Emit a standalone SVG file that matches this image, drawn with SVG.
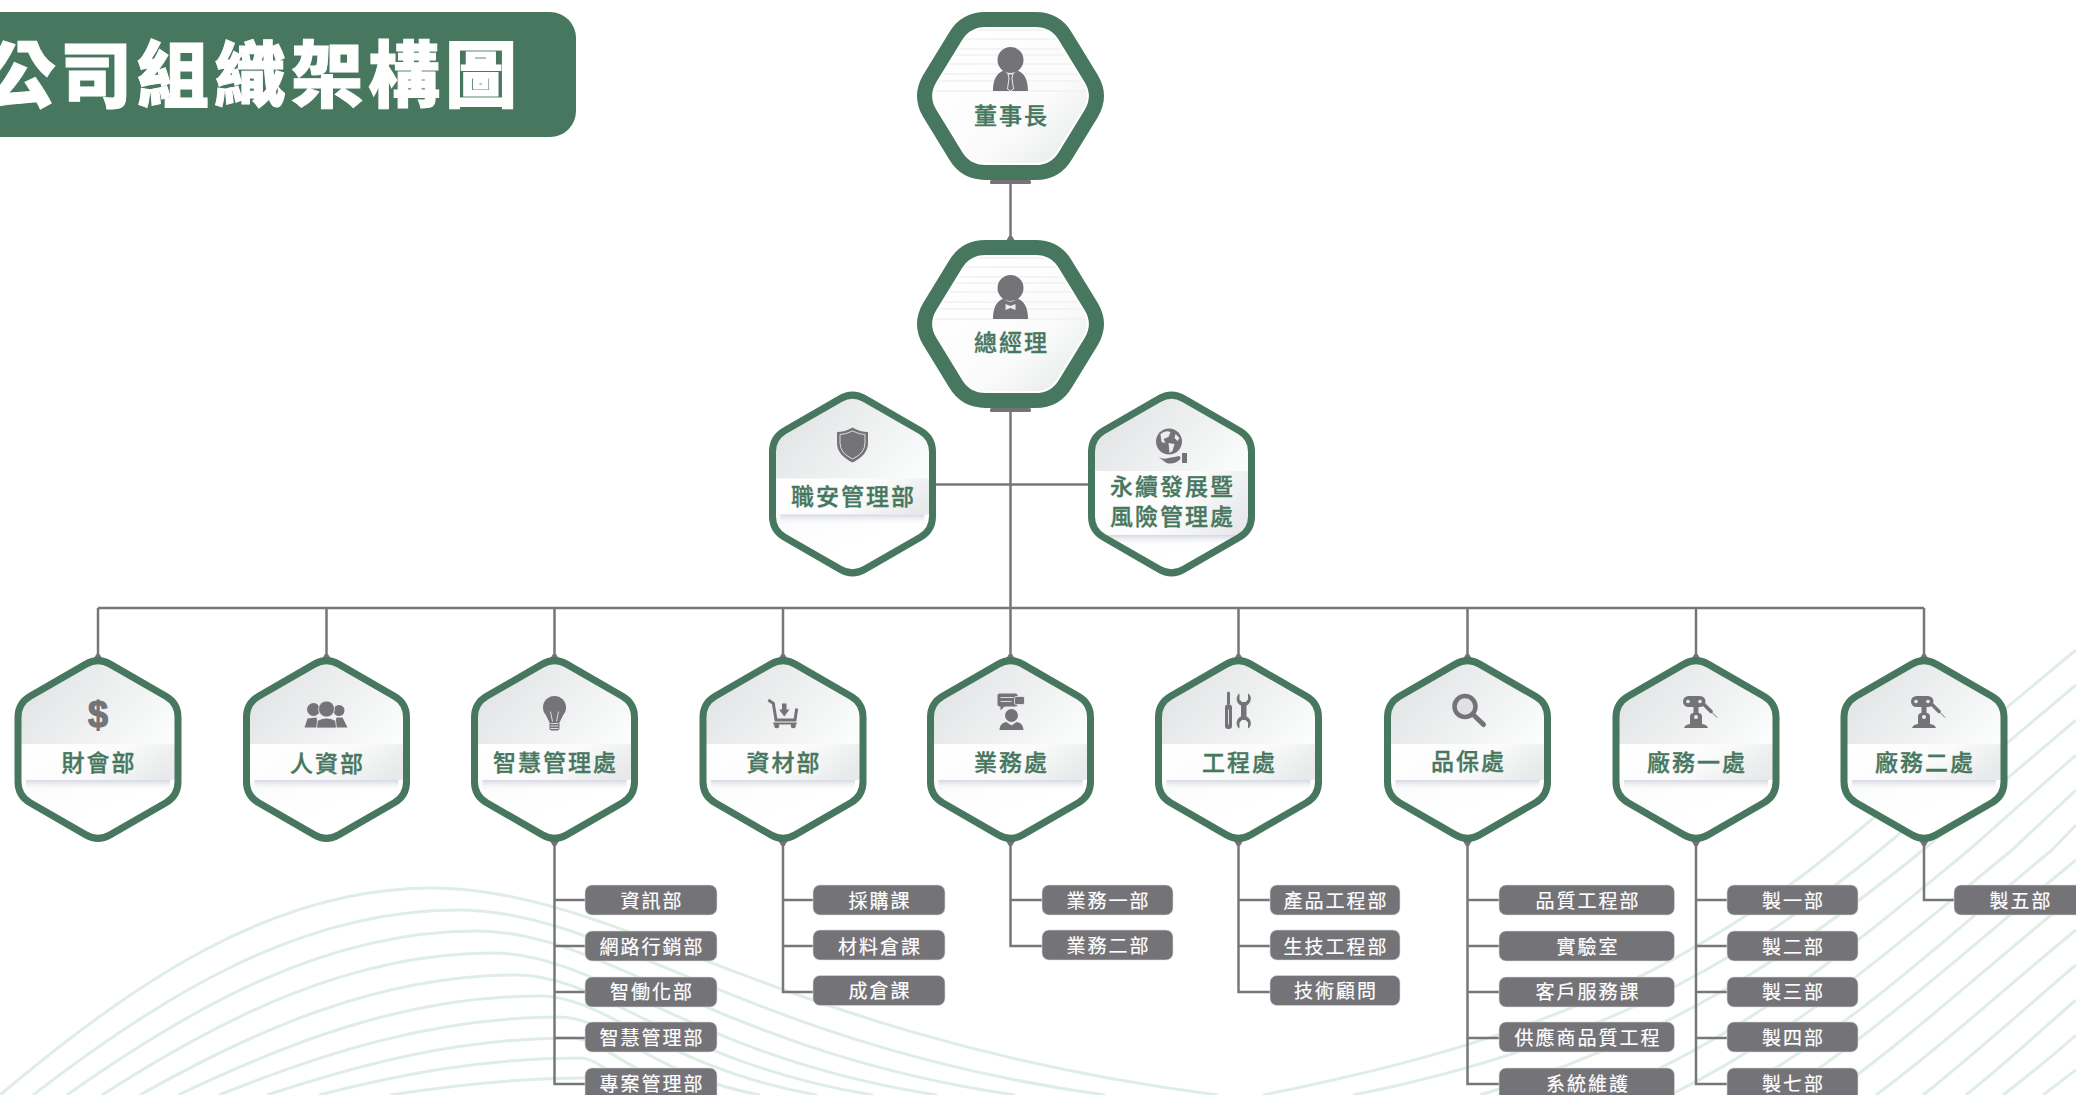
<svg xmlns="http://www.w3.org/2000/svg" xmlns:xlink="http://www.w3.org/1999/xlink" width="2076" height="1095" viewBox="0 0 2076 1095">
<style>
text{font-family:"Noto Sans CJK TC","Noto Sans CJK SC",sans-serif;text-anchor:middle}
.bgl{fill:none;stroke:#dfeee5;stroke-width:3}
.con{fill:none;stroke:#77767b;stroke-width:2.5}
.gr{fill:#747378}
.lab{font-size:23px;letter-spacing:2px;fill:#47775f;font-weight:500;stroke:#47775f;stroke-width:.35}
.box{fill:#747378;stroke:#dcdcde;stroke-width:.6}
.boxt{font-size:19px;letter-spacing:2px;fill:#fff;stroke:#fff;stroke-width:.2}
.title{font-size:72px;letter-spacing:5px;fill:#fff;font-weight:900;text-anchor:start;stroke:#fff;stroke-width:1}
.lite{fill:none;stroke:#dcdcde;stroke-width:1}
</style>
<defs>
<linearGradient id="up" x1="0.1" y1="0" x2="0.75" y2="0.62"><stop offset="0" stop-color="#dfe2e3"/><stop offset="1" stop-color="#fbfcfc"/></linearGradient>
<linearGradient id="bandg" x1="0" y1="0.3" x2="1" y2="0.6"><stop offset="0" stop-color="#fff"/><stop offset=".55" stop-color="#fbfbfb"/><stop offset="1" stop-color="#e7e9ea"/></linearGradient>
<linearGradient id="shad" x1="0" y1="0" x2="0" y2="1"><stop offset="0" stop-color="#d6d8e2"/><stop offset="1" stop-color="#fff" stop-opacity="0"/></linearGradient>
<linearGradient id="low" x1="0" y1="0" x2="1" y2="1"><stop offset="0" stop-color="#fafbfb"/><stop offset=".5" stop-color="#fff"/></linearGradient>
<linearGradient id="bigf" x1="0.2" y1="0.2" x2="0.95" y2="0.95"><stop offset="0" stop-color="#fff"/><stop offset=".55" stop-color="#fbfbfb"/><stop offset="1" stop-color="#e4e7e7"/></linearGradient>
<path id="sp" d="M-12.1,-85.4Q0,-92.4 12.1,-85.4L67.9,-53.2Q80,-46.2 80,-32.2L80,32.2Q80,46.2 67.9,53.2L12.1,85.4Q0,92.4 -12.1,85.4L-67.9,53.2Q-80,46.2 -80,32.2L-80,-32.2Q-80,-46.2 -67.9,-53.2Z"/>
<path id="bp" d="M-25,-76.5L25,-76.5Q45,-76.5 55.1,-59.3L80.9,-17.2Q91,0 80.9,17.2L55.1,59.3Q45,76.5 25,76.5L-25,76.5Q-45,76.5 -55.1,59.3L-80.9,17.2Q-91,0 -80.9,-17.2L-55.1,-59.3Q-45,-76.5 -25,-76.5Z"/>
<clipPath id="sc"><use href="#sp"/></clipPath>
<clipPath id="bc"><use href="#bp"/></clipPath>
<g id="shex"><use href="#sp" fill="url(#up)"/></g>
<g id="sline"><use href="#sp" fill="none" stroke="#47775f" stroke-width="7"/></g>
<g id="band36" clip-path="url(#sc)">
<rect x="-80" y="30.5" width="160" height="62" fill="url(#low)"/>
<rect x="-80" y="-5.5" width="160" height="36" fill="url(#bandg)"/>
<rect x="-72" y="30.5" width="144" height="11" fill="url(#shad)"/>
</g>
<g id="band64" clip-path="url(#sc)">
<rect x="-80" y="51" width="160" height="42" fill="url(#low)"/>
<rect x="-80" y="-13" width="160" height="64" fill="url(#bandg)"/>
<rect x="-72" y="51" width="144" height="11" fill="url(#shad)"/>
</g>
<g id="bhex">
<use href="#bp" fill="url(#bigf)"/>
<g clip-path="url(#bc)">
<path d="M-90,-66H90M-90,-57H90M-90,-47H90M-90,-41H90M-90,-32H90M-90,-22H90M-90,-15H90M-90,-5H90" fill="none" stroke="#f0f1f1" stroke-width="1.5"/>
<use href="#bp" fill="none" stroke="#fff" stroke-width="19"/>
</g>
<use href="#bp" fill="none" stroke="#47775f" stroke-width="15"/>
<rect class="gr" x="-20.500" y="84" width="41" height="4" rx="1.5"/>
</g>
<path id="knob" class="gr" d="M-1.5,-5L1.5,-5L4.5,0L-4.5,0Z"/>
<path id="knobd" class="gr" d="M-1.5,5L1.5,5L4.5,0L-4.5,0Z"/>
<g id="robot" class="gr">
<rect x="-13" y="-53.5" width="22.5" height="11" rx="5.5"/>
<path d="M7,-46L15,-38" stroke="#747378" stroke-width="3.500" stroke-linecap="round"/>
<path d="M15,-38L21,-32" stroke="#747378" stroke-width="1"/>
<rect x="-2.5" y="-43" width="5" height="7"/>
<path d="M-6,-25L-6,-33Q-6,-37 0,-37Q6,-37 6,-33L6,-25Z"/>
<path d="M-12,-21.5Q-11,-25 -6,-25.5L6,-25.5Q11,-25 12,-21.5Z"/>
<circle cx="-8" cy="-48" r="1.8" fill="#eceeee"/><circle cx="4" cy="-48" r="1.8" fill="#eceeee"/><circle cx="0" cy="-32.5" r="2" fill="#eceeee"/>
</g>
</defs>
<rect width="2076" height="1095" fill="#fff"/>
<g id="background">
<path class="bgl" d="M0,1095C130,985 271,888 431,888C620,888 781,1039 1218,1095"/>
<path class="bgl" d="M33,1095C160,997 300,910 457,910C613,910 745,1045 1105,1095"/>
<path class="bgl" d="M67,1095C190,1008 325,931 477,931C606,931 716,1051 1015,1095"/>
<path class="bgl" d="M102,1095C219,1020 348,953 493,953C600,953 691,1057 937,1095"/>
<path class="bgl" d="M140,1095C253,1031 378,975 517,975C602,975 675,1063 873,1095"/>
<path class="bgl" d="M178,1095C287,1043 406,996 540,996C606,996 663,1068 817,1095"/>
<path class="bgl" d="M219,1095C321,1054 434,1017 560,1017C608,1017 649,1074 760,1095"/>
<path class="bgl" d="M267,1095C358,1065 458,1038 570,1038C604,1038 632,1080 710,1095"/>
<path class="bgl" d="M319,1095C397,1075 483,1058 580,1058C600,1058 618,1085 665,1095"/>
<path class="bgl" d="M390,1095C448,1086 513,1078 585,1078C596,1078 605,1090 630,1095"/>
<path class="bgl" d="M1263,1095C1492,1049 1663,991 1835,850L2076,650"/>
<path class="bgl" d="M1353,1095C1564,1053 1722,980 1880,850L2076,685"/>
<path class="bgl" d="M1480,1095C1657,1042 1790,959 1923,850L2076,720"/>
<path class="bgl" d="M1600,1095C1748,1036 1858,941 1969,850L2076,755"/>
<path class="bgl" d="M1670,1095C1807,1027 1909,934 2012,850L2076,790"/>
<path class="bgl" d="M1730,1095C1859,1024 1955,929 2052,850L2076,825"/>
<path class="bgl" d="M1780,1095C1880,1030 1990,930 2076,860"/>
<path class="bgl" d="M1830,1095C1920,1030 2000,955 2076,895"/>
<path class="bgl" d="M1876,1095C1950,1040 2020,975 2076,930"/>
<path class="bgl" d="M1923,1095C1980,1050 2040,995 2076,965"/>
<path class="bgl" d="M1966,1095C2010,1060 2050,1022 2076,1000"/>
<path class="bgl" d="M2003,1095C2030,1074 2055,1054 2076,1035"/>
<path class="bgl" d="M2043,1095C2055,1086 2065,1078 2076,1070"/>
</g>
<g id="connectors">
<path class="con" d="M1010.5,180V240M1010.5,408V655M936,484.500H1088M98,608H1924M98,608V655M326.5,608V655M554.5,608V655M783,608V655M1238.5,608V655M1467.5,608V655M1696,608V655M1924,608V655"/>
<path class="con" d="M554.5,842V1084H585M554.5,900H585M554.5,946H585M554.5,992H585M554.5,1038H585"/>
<path class="con" d="M783,842V992H813M783,900H813M783,946H813"/>
<path class="con" d="M1010.5,842V946H1042M1010.5,900H1042"/>
<path class="con" d="M1238.5,842V992H1270M1238.5,900H1270M1238.5,946H1270"/>
<path class="con" d="M1467.5,842V1084H1499M1467.5,900H1499M1467.5,946H1499M1467.5,992H1499M1467.5,1038H1499"/>
<path class="con" d="M1696,842V1084H1727M1696,900H1727M1696,946H1727M1696,992H1727M1696,1038H1727"/>
<path class="con" d="M1924,842V900H1954"/>
<use href="#knob" x="1010.5" y="241"/>
<use href="#knob" x="98" y="659"/><use href="#knob" x="326.5" y="659"/><use href="#knob" x="554.5" y="659"/><use href="#knob" x="783" y="659"/><use href="#knob" x="1010.5" y="659"/><use href="#knob" x="1238.5" y="659"/><use href="#knob" x="1467.5" y="659"/><use href="#knob" x="1696" y="659"/><use href="#knob" x="1924" y="659"/>
<use href="#knobd" x="554.5" y="841"/><use href="#knobd" x="783" y="841"/><use href="#knobd" x="1010.5" y="841"/><use href="#knobd" x="1238.5" y="841"/><use href="#knobd" x="1467.5" y="841"/><use href="#knobd" x="1696" y="841"/><use href="#knobd" x="1924" y="841"/>
</g>
<g id="title">
<rect x="-30" y="12" width="606" height="125" rx="26" fill="#47775f"/>
<text class="title" x="-17" y="101">公司組織架構圖</text>
</g>
<g id="chairman" transform="translate(1010.5,96)">
<use href="#bhex"/>
<circle class="gr" cx="0" cy="-36" r="13"/>
<path class="gr" d="M-17.5,-5C-17.5,-16 -14,-23 -7,-25.5L0,-20L7,-25.5C14,-23 17.5,-16 17.5,-5Z"/>
<path d="M-2.5,-22L2.5,-22L1.5,-18L3,-7L0,-5L-3,-7L-1.5,-18Z" fill="#747378" stroke="#e8e8e8" stroke-width="1"/>
<text class="lab" x="1" y="27.5">董事長</text>
</g>
<g id="gm" transform="translate(1010.5,324)">
<use href="#bhex"/>
<circle class="gr" cx="0" cy="-36" r="13"/>
<path class="gr" d="M-17.5,-5C-17.5,-16 -14,-23 -7,-25.5Q0,-19 7,-25.5C14,-23 17.5,-16 17.5,-5Z"/>
<path d="M-5,-20L0,-18L5,-20L5,-14L0,-16L-5,-14Z" fill="#eceeee"/>
<text class="lab" x="1" y="27.2">總經理</text>
</g>
<g id="safety" transform="translate(852.5,484)">
<use href="#shex"/><use href="#band36"/><use href="#sline"/>
<path class="gr" d="M0,-56.5Q8,-52 15.5,-52L15.5,-41Q15.5,-29 0,-21.5Q-15.5,-29 -15.5,-41L-15.5,-52Q-8,-52 0,-56.5Z"/>
<path class="lite" d="M0,-53Q7,-49.5 12.5,-49.5L12.5,-41Q12.5,-31 0,-25Q-12.5,-31 -12.5,-41L-12.5,-49.5Q-7,-49.5 0,-53Z"/>
<text class="lab" x="1" y="21.4">職安管理部</text>
</g>
<g id="esg" transform="translate(1171.5,484)">
<use href="#shex"/><use href="#band64"/><use href="#sline"/>
<circle class="gr" cx="-2.5" cy="-42.5" r="13"/>
<path d="M-11,-50Q-6,-54 -1,-52L-3,-47L-8,-45L-6,-41L-10,-42ZM-3,-41L3,-40L1,-33L-2,-31ZM4,-50L8,-46L6,-43L3,-46Z" fill="#eceeee"/>
<path class="gr" d="M-13,-27Q-8,-24 -3,-26L8,-28Q10,-26 8,-24Q2,-19 -5,-21Z"/>
<rect class="gr" x="10.5" y="-31" width="5" height="10"/>
<text class="lab" x="1" y="10.5">永續發展暨</text>
<text class="lab" x="1" y="40.5">風險管理處</text>
</g>
<g id="finance" transform="translate(98,749.5)">
<use href="#shex"/><use href="#band36"/><use href="#sline"/>
<text x="0" y="-23" font-size="36" font-weight="700" fill="#747378" stroke="#747378" stroke-width="1.200" style="font-family:'Liberation Sans',sans-serif">$</text>
<text class="lab" x="1" y="21">財會部</text>
</g>
<g id="hr" transform="translate(326.5,749.5)">
<use href="#shex"/><use href="#band36"/><use href="#sline"/>
<circle class="gr" cx="-13" cy="-40" r="6.5"/><circle class="gr" cx="12.5" cy="-39" r="5.5"/>
<path class="gr" d="M-22,-22L-19,-31L-10,-32L-8,-22ZM8,-22L10,-32L16,-32L21,-22Z"/>
<circle class="gr" cx="0" cy="-40.5" r="8" stroke="#eceeee" stroke-width=".8"/>
<path class="gr" d="M-10,-21.5L-9,-29Q0,-34 9,-29L10,-21.5Z" stroke="#eceeee" stroke-width=".8"/>
<text class="lab" x="1" y="22.5">人資部</text>
</g>
<g id="smart" transform="translate(554.5,749.5)">
<use href="#shex"/><use href="#band36"/><use href="#sline"/>
<circle class="gr" cx="0" cy="-42" r="11.5"/>
<path class="gr" d="M-8.500,-34L-5,-27L5,-27L8.500,-34Z"/>
<rect class="gr" x="-5" y="-28" width="10" height="9" rx="2"/>
<path class="lite" d="M-4,-38L-2,-28M4,-38L2,-28M-4,-26H4M-4,-23.500H4M-4,-21H4"/>
<text class="lab" x="1" y="21">智慧管理處</text>
</g>
<g id="material" transform="translate(783,749.5)">
<use href="#shex"/><use href="#band36"/><use href="#sline"/>
<path d="M-14.7,-49.5L-9.7,-46.2L-7,-29.5H12L13.7,-41" fill="none" stroke="#747378" stroke-width="3"/>
<path d="M-9.7,-26H13.7" stroke="#747378" stroke-width="2"/>
<circle class="gr" cx="-6.3" cy="-23.8" r="2.5"/><circle class="gr" cx="10.3" cy="-23.8" r="2.5"/>
<path class="gr" d="M-1,-46H3.5V-40H6.5L1.3,-33L-4,-40H-1Z"/>
<text class="lab" x="1" y="21">資材部</text>
</g>
<g id="sales" transform="translate(1010.5,749.5)">
<use href="#shex"/><use href="#band36"/><use href="#sline"/>
<rect class="gr" x="-13" y="-56" width="20" height="13" rx="2"/>
<path class="gr" d="M-10,-44L-10,-39L-5,-44Z"/>
<rect class="gr" x="4" y="-53" width="10" height="8" rx="1.5" stroke="#eceeee" stroke-width=".8"/>
<path class="lite" d="M-10,-52H3M-10,-48H1"/>
<circle class="gr" cx="1" cy="-34" r="6.5"/>
<path class="gr" d="M-11,-19.5C-11,-24 -8,-27 -4,-27.5L1,-24L6,-27.5C10,-27 13,-24 13,-19.5Z"/>
<text class="lab" x="1" y="21">業務處</text>
</g>
<g id="engineering" transform="translate(1238.5,749.5)">
<use href="#shex"/><use href="#band36"/><use href="#sline"/>
<path d="M-10,-56.5V-46" stroke="#747378" stroke-width="3" stroke-linecap="round"/>
<rect class="gr" x="-13.5" y="-45" width="7" height="24.5" rx="3"/>
<path class="lite" d="M-10,-40V-25"/>
<path class="gr" d="M1,-56L1,-50L3.500,-47.500L7,-47.500L9.500,-50L9.500,-56C14,-54 13,-46 8,-44L8,-33C13,-31 14,-23 9.500,-21L9.500,-27L7,-29.500L3.500,-29.500L1,-27L1,-21C-3,-23 -3,-31 2.500,-33L2.500,-44C-3,-46 -3,-54 1,-56Z"/>
<text class="lab" x="1" y="21">工程處</text>
</g>
<g id="qa" transform="translate(1467.5,749.5)">
<use href="#shex"/><use href="#band36"/><use href="#sline"/>
<circle cx="-2.5" cy="-43" r="10.5" fill="#e0e1e2" stroke="#747378" stroke-width="4.5"/>
<path d="M5.5,-35L16,-25" stroke="#747378" stroke-width="5" stroke-linecap="round"/>
<text class="lab" x="1" y="20">品保處</text>
</g>
<g id="plant1" transform="translate(1696,749.5)">
<use href="#shex"/><use href="#band36"/><use href="#sline"/>
<use href="#robot"/>
<text class="lab" x="1" y="21.5">廠務一處</text>
</g>
<g id="plant2" transform="translate(1924,749.5)">
<use href="#shex"/><use href="#band36"/><use href="#sline"/>
<use href="#robot"/>
<text class="lab" x="1" y="21.5">廠務二處</text>
</g>
<g id="c1-1"><rect class="box" x="585" y="885" width="132" height="30" rx="7"/><text class="boxt" x="652" y="908">資訊部</text></g>
<g id="c1-2"><rect class="box" x="585" y="931" width="132" height="30" rx="7"/><text class="boxt" x="652" y="953.500">網路行銷部</text></g>
<g id="c1-3"><rect class="box" x="585" y="977" width="132" height="30" rx="7"/><text class="boxt" x="652" y="999">智働化部</text></g>
<g id="c1-4"><rect class="box" x="585" y="1022" width="132" height="30" rx="7"/><text class="boxt" x="652" y="1044.500">智慧管理部</text></g>
<g id="c1-5"><rect class="box" x="585" y="1068" width="132" height="34" rx="7"/><text class="boxt" x="652" y="1090.500">專案管理部</text></g>
<g id="c2-1"><rect class="box" x="813" y="885" width="132" height="30" rx="7"/><text class="boxt" x="880" y="908">採購課</text></g>
<g id="c2-2"><rect class="box" x="813" y="930" width="132" height="30" rx="7"/><text class="boxt" x="880" y="953.500">材料倉課</text></g>
<g id="c2-3"><rect class="box" x="813" y="975.500" width="132" height="30" rx="7"/><text class="boxt" x="880" y="998">成倉課</text></g>
<g id="c3-1"><rect class="box" x="1042" y="885" width="131" height="30" rx="7"/><text class="boxt" x="1108.500" y="908">業務一部</text></g>
<g id="c3-2"><rect class="box" x="1042" y="930" width="131" height="30" rx="7"/><text class="boxt" x="1108.500" y="952.500">業務二部</text></g>
<g id="c4-1"><rect class="box" x="1270" y="885" width="130" height="30" rx="7"/><text class="boxt" x="1336" y="908">產品工程部</text></g>
<g id="c4-2"><rect class="box" x="1270" y="930" width="130" height="30" rx="7"/><text class="boxt" x="1336" y="953.500">生技工程部</text></g>
<g id="c4-3"><rect class="box" x="1270" y="975.500" width="130" height="30" rx="7"/><text class="boxt" x="1336" y="998">技術顧問</text></g>
<g id="c5-1"><rect class="box" x="1499" y="885" width="175.500" height="30" rx="7"/><text class="boxt" x="1588" y="908">品質工程部</text></g>
<g id="c5-2"><rect class="box" x="1499" y="931" width="175.500" height="30" rx="7"/><text class="boxt" x="1588" y="953.500">實驗室</text></g>
<g id="c5-3"><rect class="box" x="1499" y="977" width="175.500" height="30" rx="7"/><text class="boxt" x="1588" y="999">客戶服務課</text></g>
<g id="c5-4"><rect class="box" x="1499" y="1022" width="175.500" height="30" rx="7"/><text class="boxt" x="1588" y="1044.500">供應商品質工程</text></g>
<g id="c5-5"><rect class="box" x="1499" y="1068" width="175.500" height="34" rx="7"/><text class="boxt" x="1588" y="1090.500">系統維護</text></g>
<g id="c6-1"><rect class="box" x="1727" y="885" width="131" height="30" rx="7"/><text class="boxt" x="1793.500" y="908">製一部</text></g>
<g id="c6-2"><rect class="box" x="1727" y="931" width="131" height="30" rx="7"/><text class="boxt" x="1793.500" y="953.500">製二部</text></g>
<g id="c6-3"><rect class="box" x="1727" y="977" width="131" height="30" rx="7"/><text class="boxt" x="1793.500" y="999">製三部</text></g>
<g id="c6-4"><rect class="box" x="1727" y="1022" width="131" height="30" rx="7"/><text class="boxt" x="1793.500" y="1044.500">製四部</text></g>
<g id="c6-5"><rect class="box" x="1727" y="1068" width="131" height="34" rx="7"/><text class="boxt" x="1793.500" y="1090.500">製七部</text></g>
<g id="c7-1"><rect class="box" x="1954" y="885" width="140" height="30" rx="7"/><text class="boxt" x="2021" y="908">製五部</text></g>
</svg>
